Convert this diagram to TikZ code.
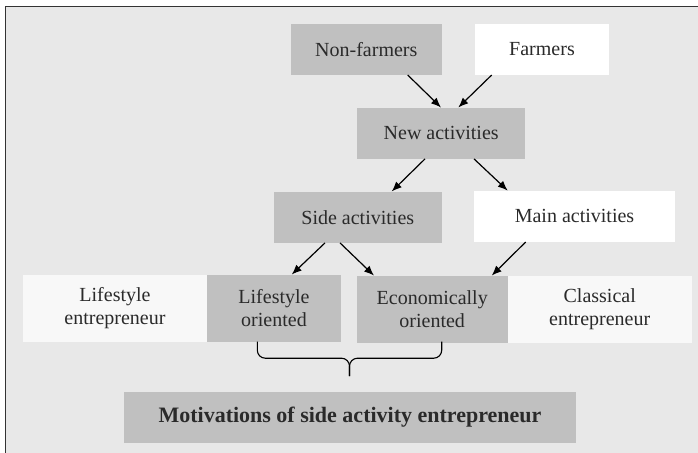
\documentclass[tikz,border=0pt]{standalone}
\usepackage{fontspec}
\setmainfont{Liberation Serif}
\usetikzlibrary{arrows.meta}

\definecolor{framegrey}{HTML}{E8E8E8}
\definecolor{boxgrey}{HTML}{C0C0C0}
\definecolor{palegrey}{HTML}{F8F8F8}
\definecolor{textgrey}{HTML}{2A2A2A}

\begin{document}
\begin{tikzpicture}[x=1pt,y=-1pt]

\tikzstyle{greybox} = [fill=boxgrey, text=textgrey, inner sep=0pt, align=center, font=\fontsize{20}{23}\selectfont]
\tikzstyle{whitebox} = [greybox, fill=white]
\tikzstyle{palebox} = [greybox, fill=palegrey]
\tikzstyle{myarrow} = [line width=1.2pt, -{Latex[length=10pt,width=8pt]}]
\tikzstyle{bracestyle} = [line width=1.1pt, rounded corners=8pt]

\useasboundingbox (0,0) rectangle (698,452);
\clip (0,0) rectangle (698,452);
\draw [line width=1.2pt, draw=black!80, fill=framegrey] (5.5,6.5) rectangle (720,480);

\node [greybox, minimum width=151pt, minimum height=51pt] (nf) at (366.3,49.3) {Non-farmers};
\node [whitebox, minimum width=134pt, minimum height=51pt] (fm) at (542,49.3) {Farmers};
\node [greybox, minimum width=168pt, minimum height=51pt] (na) at (441.2,133.2) {New activities};
\node [greybox, minimum width=168pt, minimum height=51pt] (sa) at (357.8,217.2) {Side activities};
\node [whitebox, minimum width=201pt, minimum height=51pt] (ma) at (574.5,216.3) {Main activities};
\node [palebox, minimum width=185pt, minimum height=67pt] (le) at (115,308.3) {Lifestyle\\entrepreneur};
\node [greybox, minimum width=134pt, minimum height=67pt] (lo) at (274,308.3) {Lifestyle\\oriented};
\node [greybox, minimum width=151pt, minimum height=67pt] (eo) at (432.2,309.3) {Economically\\oriented};
\node [palebox, minimum width=184pt, minimum height=67pt] (ce) at (599.7,309.3) {Classical\\entrepreneur};
\node [greybox, minimum width=452pt, minimum height=50.5pt, font=\fontsize{22}{26}\selectfont\bfseries] (mo) at (350,417.5) {Motivations of side activity entrepreneur};

\draw [myarrow] ([xshift=41.4pt]nf.south) -- ([xshift=-0.2pt]na.north);
\draw [myarrow] ([xshift=-50.3pt]fm.south) -- ([xshift=17.1pt]na.north);
\draw [myarrow] ([xshift=-16.2pt]na.south) -- ([xshift=33.9pt]sa.north);
\draw [myarrow] ([xshift=32.8pt]na.south) -- ([xshift=-66.8pt]ma.north);
\draw [myarrow] ([xshift=-32.8pt]sa.south) -- ([xshift=17.7pt]lo.north);
\draw [myarrow] ([xshift=-17.8pt]sa.south) -- ([xshift=-58.2pt]eo.north);
\draw [myarrow] ([xshift=-48.8pt]ma.south) -- ([xshift=59.5pt]eo.north);

\coordinate (bl) at (257.3,341.7);
\coordinate (br) at (441.7,341.7);
\coordinate (bt) at (349.5,376);
\draw [bracestyle] (bl) -- ++(0,16.5) -| (bt);
\draw [bracestyle] (br) -- ++(0,16.5) -| (bt);

\end{tikzpicture}
\end{document}
